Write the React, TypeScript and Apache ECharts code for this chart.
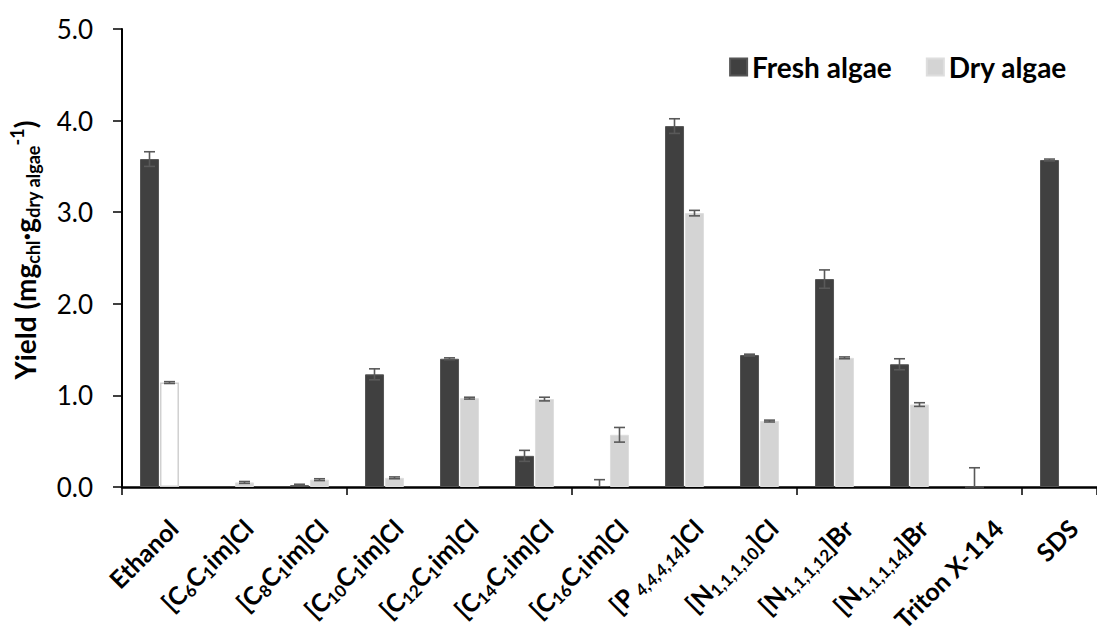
import React, { useEffect, useRef } from "react";
import * as echarts from "echarts";

// Categories (rich-text markup: b = normal bold, s = subscript, si = italic subscript)
const categories: string[] = [
  "{b|Ethanol}",
  "{b|[C}{s|6}{b|C}{s|1}{b|im]Cl}",
  "{b|[C}{s|8}{b|C}{s|1}{b|im]Cl}",
  "{b|[C}{s|10}{b|C}{s|1}{b|im]Cl}",
  "{b|[C}{s|12}{b|C}{s|1}{b|im]Cl}",
  "{b|[C}{s|14}{b|C}{s|1}{b|im]Cl}",
  "{b|[C}{s|16}{b|C}{s|1}{b|im]Cl}",
  "{b|[P }{si|4,4,4,14}{b|]Cl}",
  "{b|[N}{s|1,1,1,10}{b|]Cl}",
  "{b|[N}{s|1,1,1,12}{b|]Br}",
  "{b|[N}{s|1,1,1,14}{b|]Br}",
  "{b|Triton X-114}",
  "{b|SDS}",
];

const freshValues: (number | null)[] = [3.58, null, 0.02, 1.23, 1.4, 0.34, 0.01, 3.94, 1.44, 2.27, 1.34, 0.0, 3.57];
const freshErrors: number[] = [0.08, 0, 0.01, 0.06, 0.01, 0.06, 0.07, 0.08, 0.01, 0.1, 0.06, 0.21, 0.01];
const dryValues: (number | null)[] = [1.14, 0.05, 0.08, 0.1, 0.97, 0.96, 0.57, 2.99, 0.72, 1.41, 0.9, null, null];
const dryErrors: number[] = [0.01, 0.01, 0.01, 0.01, 0.01, 0.02, 0.08, 0.03, 0.01, 0.01, 0.02, 0, 0];

const seriesNames = ["Fresh algae", "Dry algae"];
const yTicks = { min: 0, max: 5, interval: 1 };

const FONT = "Lato";
const FRESH = "#404040";
const DRY = "#d4d4d4";
const ERR = "#595959";
const BAR_W = 19;
const OFFSET = 10;

const labelRich = {
  b: { fontFamily: FONT, fontSize: 25, fontWeight: "bold", color: "#000", lineHeight: 30 },
  s: { fontFamily: FONT, fontSize: 17, fontWeight: "bold", color: "#000", lineHeight: 14, verticalAlign: "bottom" },
  si: { fontFamily: FONT, fontSize: 17, fontWeight: "bold", fontStyle: "italic", color: "#000", lineHeight: 14, verticalAlign: "bottom" },
};

function errorSeries(name: string, vals: (number | null)[], errs: number[], offset: number) {
  const data: number[][] = [];
  vals.forEach((v, i) => {
    if (v !== null && errs[i] > 0) data.push([i, v, errs[i]]);
  });
  return {
    type: "custom",
    name: name + " error",
    data,
    clip: true,
    silent: true,
    z: 10,
    renderItem: (_params: any, api: any) => {
      const i = api.value(0);
      const v = api.value(1);
      const e = api.value(2);
      const top = api.coord([i, v + e]);
      const bot = api.coord([i, v - e]);
      const x = top[0] + offset;
      const hw = 5.5;
      const style = { stroke: ERR, lineWidth: 1.6 };
      return {
        type: "group",
        children: [
          { type: "line", shape: { x1: x, y1: top[1], x2: x, y2: bot[1] }, style },
          { type: "line", shape: { x1: x - hw, y1: top[1], x2: x + hw, y2: top[1] }, style },
          { type: "line", shape: { x1: x - hw, y1: bot[1], x2: x + hw, y2: bot[1] }, style },
        ],
      };
    },
  };
}

// 45° category labels placed at the x-axis category positions
const labelSeries = {
  type: "custom",
  name: "labels",
  data: categories.map((_, i) => [i, 0]),
  clip: false,
  silent: true,
  z: 5,
  renderItem: (params: any, api: any) => {
    const i = api.value(0);
    const p = api.coord([i, 0]);
    return {
      type: "text",
      x: p[0] + 3,
      y: p[1] + 26,
      rotation: Math.PI / 4,
      style: {
        text: categories[params.dataIndex],
        rich: labelRich,
        align: "right",
        verticalAlign: "top",
      },
    };
  },
};

export default function App() {
  const ref = useRef<HTMLDivElement>(null);
  useEffect(() => {
    if (!ref.current) return;
    const chart = echarts.init(ref.current, null, { renderer: "svg" });
    const dryData = dryValues.map((v, i) =>
      i === 0 && v !== null
        ? { value: v, itemStyle: { color: "#ffffff", borderColor: "#d0d0d0", borderWidth: 1.5 } }
        : v
    );
    chart.setOption({
      animation: false,
      backgroundColor: "#ffffff",
      textStyle: { fontFamily: FONT },
      legend: {
        data: seriesNames,
        right: 25,
        top: 48,
        icon: "rect",
        itemWidth: 17,
        itemHeight: 17,
        itemGap: 34,
        textStyle: { fontFamily: FONT, fontSize: 28, fontWeight: "bold", color: "#000" },
      },
      grid: { left: 122, right: -10, top: 29, bottom: 146, containLabel: false },
      xAxis: {
        type: "category",
        data: categories,
        axisLine: { lineStyle: { color: "#000", width: 2.5 } },
        axisTick: { show: true, length: 8, alignWithLabel: false, lineStyle: { color: "#000", width: 1.5 } },
        axisLabel: { show: false },
      },
      yAxis: {
        type: "value",
        min: yTicks.min,
        max: yTicks.max,
        interval: yTicks.interval,
        splitLine: { show: false },
        axisLine: { show: true, lineStyle: { color: "#000", width: 2 } },
        axisTick: { show: true, length: 9, lineStyle: { color: "#000", width: 1.5 } },
        axisLabel: {
          margin: 29,
          fontFamily: FONT,
          fontSize: 26,
          color: "#000",
          formatter: (v: number) => v.toFixed(1),
        },
        name: "{b|Yield (mg}{s|chl}{b|·g}{s|dry algae}{p|-1}{b|)}",
        nameLocation: "middle",
        nameRotate: 90,
        nameGap: 80,
        nameTextStyle: {
          padding: [0, 0, 0, 16],
          rich: {
            b: { fontFamily: FONT, fontSize: 28, fontWeight: "bold", color: "#000", lineHeight: 34 },
            s: { fontFamily: FONT, fontSize: 18, fontWeight: "bold", color: "#000", lineHeight: 14, verticalAlign: "bottom" },
            p: { fontFamily: FONT, fontSize: 18, fontWeight: "bold", color: "#000", lineHeight: 14, verticalAlign: "top" },
          },
        },
      },
      series: [
        {
          name: seriesNames[0],
          type: "bar",
          data: freshValues,
          barWidth: BAR_W,
          barGap: "5%",
          itemStyle: { color: FRESH, borderColor: "#555555", borderWidth: 1 },
        },
        {
          name: seriesNames[1],
          type: "bar",
          data: dryData,
          barWidth: BAR_W,
          barGap: "5%",
          itemStyle: { color: DRY, borderColor: "#dedede", borderWidth: 1 },
        },
        errorSeries(seriesNames[0], freshValues, freshErrors, -OFFSET),
        errorSeries(seriesNames[1], dryValues, dryErrors, OFFSET),
        labelSeries,
      ],
    });
    return () => chart.dispose();
  }, []);
  return <div ref={ref} style={{ position: "fixed", left: 0, top: 0, width: 1097, height: 633 }} />;
}
